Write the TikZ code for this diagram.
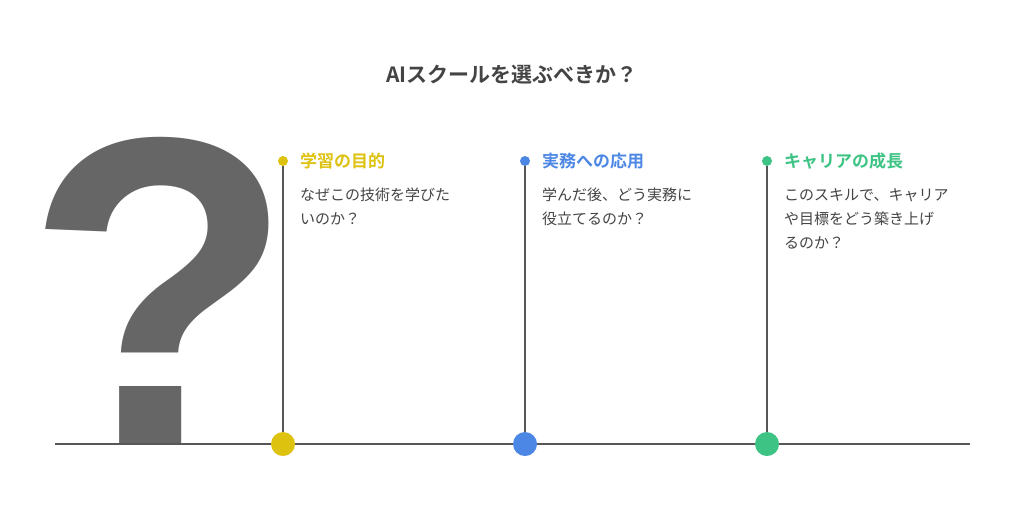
\documentclass[tikz,border=0pt]{standalone}
\usepackage{fontspec}
\setmainfont{Noto Sans CJK JP}
\newfontfamily\jpbold{Noto Sans CJK JP Bold}
\newfontfamily\markfont{Liberation Sans Bold}
\definecolor{ink}{HTML}{444444}
\definecolor{qgray}{HTML}{666666}
\definecolor{cyellow}{HTML}{DDC20F}
\definecolor{cblue}{HTML}{4D87E6}
\definecolor{cgreen}{HTML}{3DC383}
\tikzstyle{axis} = [draw=ink!90, line width=1.6pt]
\tikzstyle{stem} = [draw=ink!90, line width=1.6pt]
\tikzstyle{head} = [anchor=west, inner sep=0pt, font=\jpbold\fontsize{17}{20}\selectfont]
\tikzstyle{body} = [anchor=north west, inner sep=0pt, align=left, text=ink, font=\fontsize{15}{24}\selectfont]
\begin{document}
\begin{tikzpicture}[x=1pt,y=-1pt]
		\useasboundingbox[fill=white] (0,0) rectangle (1024,507);
		% title and big mark
		\node[text=ink, font=\jpbold\fontsize{21}{24}\selectfont] (title) at (512,75) {AIスクールを選ぶべきか？};
		\node[text=qgray, anchor=base, inner sep=0pt, font=\markfont\fontsize{440}{440}\selectfont] (mark) at (160,444) {?};
		% base line
		\coordinate (left) at (55,444);
		\coordinate (right) at (970,444);
		\path[axis] (left) -- (right);
		% stems, dots and labels
		\foreach \x/\col/\name/\title/\text in {
			283/cyellow/purpose/学習の目的/なぜこの技術を学びた\\いのか？,
			525/cblue/apply/実務への応用/学んだ後、どう実務に\\役立てるのか？,
			767/cgreen/career/キャリアの成長/このスキルで、キャリア\\や目標をどう築き上げ\\るのか？}
		{
			\node[circle, fill=\col, inner sep=0pt, minimum size=10pt] (\name top) at (\x,161) {};
			\node[circle, fill=\col, inner sep=0pt, minimum size=24pt] (\name base) at (\x,444) {};
			\path[stem] (\name top) -- (\name base);
			\node[head, text=\col] (\name head) at (\x+17,161) {\title};
			\node[body] (\name text) at (\x+17,188) {\text};
		}
\end{tikzpicture}
\end{document}
